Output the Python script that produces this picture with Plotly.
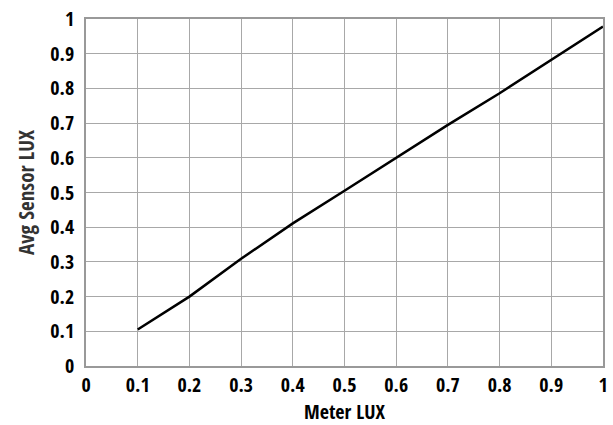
import plotly.graph_objects as go

meter_lux = [0.1, 0.2, 0.3, 0.4, 0.5, 0.6, 0.7, 0.8, 0.9, 1.0]
avg_sensor_lux = [0.105, 0.2, 0.309, 0.411, 0.505, 0.6, 0.695, 0.786, 0.881, 0.978]
tick_vals = [0, 0.1, 0.2, 0.3, 0.4, 0.5, 0.6, 0.7, 0.8, 0.9, 1]
tick_text = ["0", "0.1", "0.2", "0.3", "0.4", "0.5", "0.6", "0.7", "0.8", "0.9", "1"]

FONT = "Open Sans Condensed, Roboto Condensed, sans-serif"

fig = go.Figure()
fig.add_trace(go.Scatter(x=meter_lux, y=avg_sensor_lux, mode="lines",
                         line=dict(color="black", width=2.5), showlegend=False))

axis_common = dict(range=[0, 1], tickvals=tick_vals,
                   ticktext=["<b>%s</b>" % t for t in tick_text],
                   showgrid=True, gridcolor="#a8a8a8", gridwidth=1,
                   showline=True, linecolor="#999999", linewidth=1.5, mirror=True,
                   zeroline=False, ticks="", ticklabeloverflow="allow",
                   tickfont=dict(family=FONT, size=20, color="black"))

fig.update_xaxes(**axis_common,
                 title=dict(text="<b>Meter LUX</b>", font=dict(family=FONT, size=20, color="black"), standoff=8))
fig.update_yaxes(**axis_common, ticklabelstandoff=6,
                 title=dict(text="<b>Avg Sensor LUX</b>", font=dict(family=FONT, size=21, color="#333333"), standoff=10))

fig.update_layout(width=613, height=425, margin=dict(l=86, r=5, t=19, b=56),
                  paper_bgcolor="white", plot_bgcolor="white",
                  font=dict(family=FONT))

fig.write_html("out.html", config={"displayModeBar": False},
               post_script="document.body.style.margin='0';document.body.style.overflow='hidden';")
